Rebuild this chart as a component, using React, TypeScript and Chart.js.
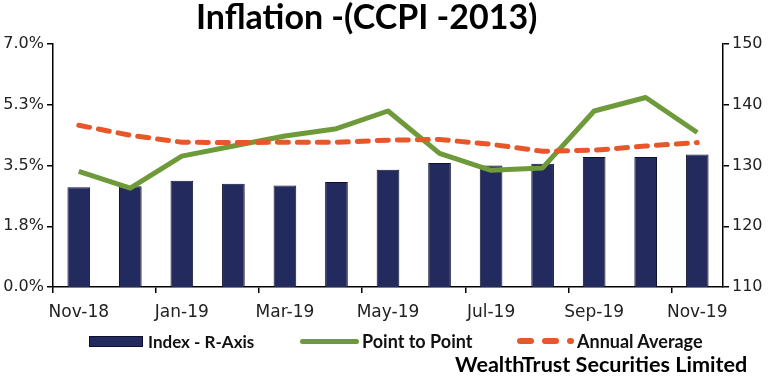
import React, { useEffect, useRef } from "react";
import { Chart, registerables } from "chart.js";

Chart.register(...registerables);

const labels = ["Nov-18", "Dec-18", "Jan-19", "Feb-19", "Mar-19", "Apr-19", "May-19", "Jun-19", "Jul-19", "Aug-19", "Sep-19", "Oct-19", "Nov-19"];
const indexValues = [126.4, 126.6, 127.5, 127.0, 126.7, 127.3, 129.3, 130.4, 130.0, 130.3, 131.4, 131.4, 131.8];
const pointToPoint = [3.33, 2.85, 3.77, 4.06, 4.35, 4.56, 5.07, 3.85, 3.36, 3.43, 5.07, 5.46, 4.45];
const annualAverage = [4.66, 4.37, 4.17, 4.16, 4.17, 4.17, 4.23, 4.25, 4.11, 3.91, 3.94, 4.06, 4.16];
const leftTicks = { min: 0, max: 7, step: 1.75 };
const rightTicks = { min: 110, max: 150, step: 10 };

const NAVY = "#232a5e";
const GREEN = "#6f9a3a";
const ORANGE = "#e8572a";
const Y_FONT = { family: "'DejaVu Sans', Verdana, sans-serif", size: 16 };
const X_FONT = { family: "'DejaVu Sans', Verdana, sans-serif", size: 17 };
const LATO = "Lato, 'Open Sans', sans-serif";

export default function App() {
  const ref = useRef<HTMLCanvasElement | null>(null);

  useEffect(() => {
    if (!ref.current) return;
    const chart = new Chart(ref.current, {
      type: "bar",
      data: {
        labels,
        datasets: [
          {
            type: "line",
            label: "Annual Average",
            data: annualAverage,
            yAxisID: "y",
            borderColor: ORANGE,
            backgroundColor: ORANGE,
            borderWidth: 5,
            borderDash: [11, 9],
            borderCapStyle: "round",
            pointRadius: 0,
            tension: 0,
            fill: false,
            order: 1,
          } as any,
          {
            type: "line",
            label: "Point to Point",
            data: pointToPoint,
            yAxisID: "y",
            borderColor: GREEN,
            backgroundColor: GREEN,
            borderWidth: 5,
            borderJoinStyle: "round",
            pointRadius: 0,
            tension: 0,
            fill: false,
            order: 2,
          } as any,
          {
            type: "bar",
            label: "Index - R-Axis",
            data: indexValues,
            yAxisID: "y1",
            backgroundColor: NAVY,
            borderColor: "#0e1030",
            borderWidth: 1,
            barPercentage: 0.44,
            categoryPercentage: 1,
            order: 3,
          } as any,
        ],
      },
      options: {
        animation: false,
        responsive: false,
        devicePixelRatio: 1,
        layout: { padding: { top: 44, bottom: 52, left: 0, right: 0 } },
        plugins: {
          legend: { display: false },
          title: { display: false },
          tooltip: { enabled: false },
        },
        scales: {
          x: {
            offset: true,
            grid: {
              offset: true,
              drawOnChartArea: false,
              drawTicks: true,
              tickLength: 6,
              lineWidth: 1.5,
              tickColor: (ctx: any) => (ctx.index % 2 === 0 && ctx.index < labels.length ? "#000" : "rgba(0,0,0,0)"),
            },
            border: { color: "#000", width: 1.5 },
            ticks: {
              autoSkip: false,
              maxRotation: 0,
              minRotation: 0,
              color: "#222",
              font: X_FONT,
              padding: 9,
              callback: (_v: any, i: number) => (i % 2 === 0 ? labels[i] : ""),
            },
            afterFit: (s: any) => {
              s.height = 40;
            },
          } as any,
          y: {
            position: "left",
            min: leftTicks.min,
            max: leftTicks.max,
            grid: { drawOnChartArea: false, tickLength: 6, tickColor: "#000", lineWidth: 1.5 },
            border: { color: "#000", width: 1.5 },
            ticks: {
              stepSize: leftTicks.step,
              color: "#222",
              font: Y_FONT,
              padding: 3,
              callback: (v: any) => Number(v).toFixed(1) + "%",
            },
            afterFit: (s: any) => {
              s.width = 53;
            },
          } as any,
          y1: {
            position: "right",
            min: rightTicks.min,
            max: rightTicks.max,
            grid: { drawOnChartArea: false, tickLength: 6, tickColor: "#000", lineWidth: 1.5 },
            border: { color: "#000", width: 1.5 },
            ticks: {
              stepSize: rightTicks.step,
              color: "#222",
              font: Y_FONT,
              padding: 3,
            },
            afterFit: (s: any) => {
              s.width = 47;
            },
          } as any,
        },
      },
    });
    return () => chart.destroy();
  }, []);

  const text = (size: number, baseline: number, left: number, content: string, extra: any = {}) => (
    <div
      style={{
        position: "absolute",
        left,
        top: baseline - 0.887 * size,
        fontFamily: LATO,
        fontWeight: 700,
        fontSize: size,
        lineHeight: 1,
        whiteSpace: "nowrap",
        color: "#111",
        ...extra,
      }}
    >
      {content}
    </div>
  );

  return (
    <div style={{ position: "absolute", left: 0, top: 0, width: 770, height: 379, background: "#fff", overflow: "hidden" }}>
      <canvas ref={ref} width={770} height={379} style={{ display: "block", width: 770, height: 379 }} />
      {text(34, 29, 196, "Inflation -(CCPI -2013)", { color: "#000" })}
      {/* legend */}
      <div style={{ position: "absolute", left: 89, top: 336, width: 52, height: 9, background: NAVY, border: "1px solid #0e1030" }} />
      {text(17, 348, 148, "Index - R-Axis")}
      <div style={{ position: "absolute", left: 300, top: 338.5, width: 59, height: 5, background: GREEN, borderRadius: 3 }} />
      {text(18, 348, 362, "Point to Point")}
      <div style={{ position: "absolute", left: 517, top: 338, width: 17, height: 6, background: ORANGE, borderRadius: 3 }} />
      <div style={{ position: "absolute", left: 542, top: 338, width: 17, height: 6, background: ORANGE, borderRadius: 3 }} />
      <div style={{ position: "absolute", left: 567, top: 338, width: 7, height: 6, background: ORANGE, borderRadius: 3 }} />
      {text(18, 348, 577, "Annual Average")}
      {text(21.6, 373, 455, "WealthTrust Securities Limited", { color: "#000" })}
    </div>
  );
}
